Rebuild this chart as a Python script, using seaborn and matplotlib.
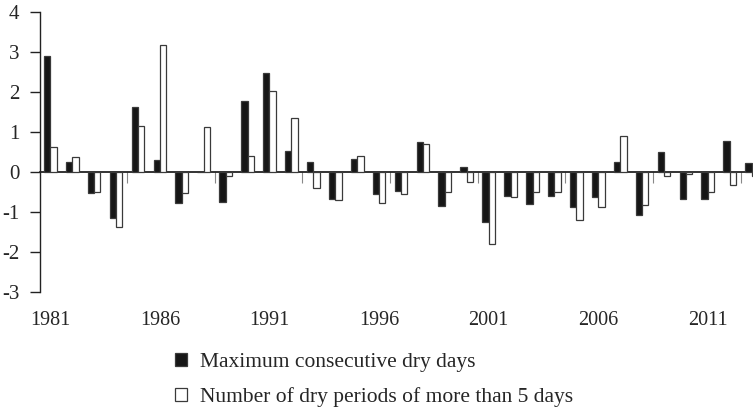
import numpy as np
import pandas as pd
import matplotlib
matplotlib.use("Agg")
import matplotlib.pyplot as plt
import seaborn as sns

years = list(range(1981, 2014))
max_cdd = [2.90, 0.26, -0.53, -1.16, 1.62, 0.29, -0.78, 0.01, -0.75, 1.78,
           2.48, 0.53, 0.25, -0.68, 0.33, -0.54, -0.48, 0.76, -0.85, 0.12,
           -1.24, -0.61, -0.81, -0.61, -0.88, -0.62, 0.26, -1.07, 0.50, -0.67,
           -0.67, 0.77, 0.23]
dry_periods = [0.63, 0.38, -0.49, -1.37, 1.15, 3.18, -0.53, 1.13, -0.09, 0.41,
               2.03, 1.34, -0.41, -0.71, 0.39, -0.78, -0.54, 0.70, -0.51, -0.24,
               -1.80, -0.63, -0.49, -0.49, -1.20, -0.88, 0.91, -0.82, -0.11, -0.05,
               -0.49, -0.33, -0.10]
series_names = ["Maximum consecutive dry days",
                "Number of dry periods of more than 5 days"]
year_labels = ["1981", "1986", "1991", "1996", "2001", "2006", "2011"]
y_ticks = [-3, -2, -1, 0, 1, 2, 3, 4]

df = pd.DataFrame({
    "year": [str(y) for y in years] * 2,
    "value": max_cdd + dry_periods,
    "series": [series_names[0]] * len(years) + [series_names[1]] * len(years),
})

sns.set_style("ticks")
plt.rcParams["font.family"] = ["Liberation Serif", "DejaVu Serif"]

fig = plt.figure(figsize=(7.53, 4.08), dpi=100)
ax = fig.add_axes([40 / 753, (408 - 292) / 408, 1 - 40 / 753, 280 / 408])

sns.barplot(data=df, x="year", y="value", hue="series",
            hue_order=series_names,
            palette=["#161616", "white"], width=0.58, dodge=True,
            edgecolor="#3a3a3a", linewidth=0.9, ax=ax, legend=True,
            errorbar=None, saturation=1)

ax.set_xlim(-0.47, 32.06)
ax.set_ylim(-3, 4)
ax.set_yticks(y_ticks)
ax.set_yticklabels([str(v) for v in y_ticks])
ax.set_xlabel("")
ax.set_ylabel("")

label_pos = [years.index(int(l)) for l in year_labels]
ax.set_xticks(label_pos)
ax.set_xticklabels(year_labels)
ax.tick_params(axis="x", length=0, pad=14, labelsize=14.5)
ax.tick_params(axis="y", length=7, width=1, direction="out", pad=8,
               labelsize=15, color="#222222")

for s in ["top", "right", "bottom"]:
    ax.spines[s].set_visible(False)
ax.spines["left"].set_linewidth(1)
ax.spines["left"].set_color("#222222")

sec = ax.secondary_xaxis(0, transform=ax.transData)
sec.set_xticks(np.arange(3.5, 32, 4))
sec.set_xticklabels([])
sec.tick_params(axis="x", direction="out", length=8, width=0.8, color="#888888")
sec.spines["bottom"].set_linewidth(1.2)
sec.spines["bottom"].set_color("#111111")

handles, labels = ax.get_legend_handles_labels()
ax.get_legend().remove()
fig.legend(handles, labels, loc="upper left",
           bbox_to_anchor=(164 / 753, 1 - 342 / 408), frameon=False,
           fontsize=15.5, handlelength=0.55, handleheight=0.55,
           handletextpad=0.6, labelspacing=0.72, borderpad=0)

fig.savefig("out.png", dpi=100)
